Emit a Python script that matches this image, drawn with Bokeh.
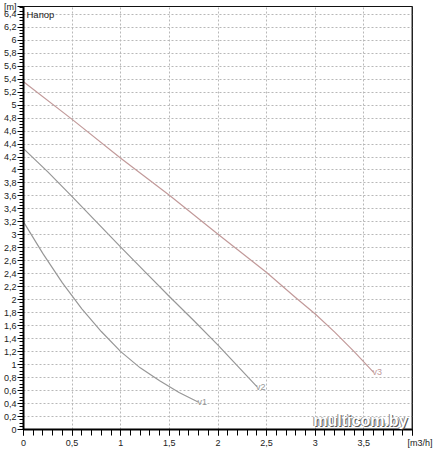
from bokeh.plotting import figure
from bokeh.models import Range1d, FixedTicker, CustomJSTickFormatter, Label, Span
from bokeh.core.properties import value
from bokeh.embed import file_html
from bokeh.resources import INLINE

# ---- data ----
v1_x = [0, 0.2, 0.4, 0.6, 0.8, 1.0, 1.2, 1.4, 1.6, 1.8]
v1_y = [3.2, 2.71, 2.26, 1.86, 1.51, 1.2, 0.95, 0.75, 0.57, 0.42]

v2_x = [0, 0.25, 0.5, 0.75, 1.0, 1.25, 1.5, 1.75, 2.0, 2.2, 2.4]
v2_y = [4.33, 3.97, 3.59, 3.2, 2.81, 2.43, 2.05, 1.68, 1.3, 0.98, 0.66]

v3_x = [0, 0.5, 1.0, 1.5, 2.0, 2.5, 2.8, 3.0, 3.2, 3.4, 3.6]
v3_y = [5.36, 4.78, 4.18, 3.61, 3.01, 2.42, 2.03, 1.78, 1.5, 1.2, 0.88]

series_names = ["v1", "v2", "v3"]
series_colors = ["#979797", "#979797", "#c29a9a"]

x_major = [0, 0.5, 1, 1.5, 2, 2.5, 3, 3.5]
x_minor = [round(i * 0.1, 2) for i in range(0, 41)]
y_major = [round(i * 0.2, 2) for i in range(0, 33)]
y_minor = [round(i * 0.05, 2) for i in range(0, 131)]

X_MAX = 4.0
Y_MAX = 6.52

y_title = "[m]"
x_title = "[m3/h]"
chart_title = "Напор"
watermark = "multicom.by"

FONT = "Liberation Sans"

p = figure(width=433, height=450, output_backend="svg", toolbar_location=None,
           x_range=Range1d(0, X_MAX), y_range=Range1d(0, Y_MAX),
           min_border_left=20, min_border_right=21, min_border_top=6,
           min_border_bottom=20)
p.background_fill_color = "white"
p.border_fill_color = "white"
p.outline_line_color = "#111111"
p.outline_line_width = 1

x_fmt = CustomJSTickFormatter(args=dict(xmax=X_MAX, title=x_title), code="""
if (Math.abs(tick - xmax) < 1e-6) return '\\u00a0\\u00a0\\u00a0\\u00a0\\u00a0\\u00a0' + title;
return (Math.round(tick*100)/100).toString().replace('.', ',');
""")
y_fmt = CustomJSTickFormatter(args=dict(ymax=Y_MAX, title=y_title), code="""
if (Math.abs(tick - ymax) < 1e-6) return title;
return (Math.round(tick*100)/100).toString().replace('.', ',');
""")

for ax, fmt in ((p.xaxis[0], x_fmt), (p.yaxis[0], y_fmt)):
    ax.formatter = fmt
    ax.axis_line_color = "black"
    ax.axis_line_width = 2
    ax.major_tick_line_color = "black"
    ax.minor_tick_line_color = "black"
    ax.major_tick_line_width = 1
    ax.minor_tick_line_width = 1
    ax.major_tick_in = 0
    ax.minor_tick_in = 0
    ax.major_label_text_font = FONT
    ax.major_label_text_font_size = "9px"
    ax.major_label_text_color = "#222222"

p.xaxis.ticker = FixedTicker(ticks=x_major + [X_MAX], minor_ticks=x_minor)
p.xaxis.major_tick_out = 6
p.xaxis.minor_tick_out = 6
p.xaxis.major_label_standoff = 2

p.yaxis.ticker = FixedTicker(ticks=y_major + [Y_MAX], minor_ticks=y_minor)
p.yaxis.major_tick_out = 6
p.yaxis.minor_tick_out = 4
p.yaxis.major_label_standoff = 1

p.xgrid.ticker = FixedTicker(ticks=x_major[1:])
p.ygrid.ticker = FixedTicker(ticks=y_major[1:])
for g in (p.xgrid[0], p.ygrid[0]):
    g.grid_line_color = "#b8b8b8"
    g.grid_line_dash = "2 2"
    g.grid_line_width = 1

p.add_layout(Span(location=X_MAX, dimension="height", line_color="#333333", line_width=2))

xs = [v1_x, v2_x, v3_x]
ys = [v1_y, v2_y, v3_y]
for x, y, c in zip(xs, ys, series_colors):
    p.line(x, y, line_color=c, line_width=1.2, line_join="round")

p.text(x=[s[-1] for s in xs], y=[s[-1] for s in ys], text=series_names,
       text_color=series_colors, text_font=value(FONT), text_font_size="9px",
       text_align="left", text_baseline="middle", x_offset=-1)

p.add_layout(Label(x=0, y=Y_MAX, text=chart_title, x_offset=3, y_offset=-2,
                   text_align="left", text_baseline="top", text_font=FONT,
                   text_font_size="9.5px", text_color="#222222"))

for dx, dy, col in [(1, -1, "#555555"), (-1, 0, "#888888"), (0, 0, "white")]:
    p.add_layout(Label(x=2.98, y=0, text=watermark, x_offset=dx, y_offset=1 + dy,
                       text_align="left", text_baseline="bottom", text_font=FONT,
                       text_font_size="16px", text_font_style="bold", text_color=col))

open("out.html", "w").write(file_html(p, INLINE))
